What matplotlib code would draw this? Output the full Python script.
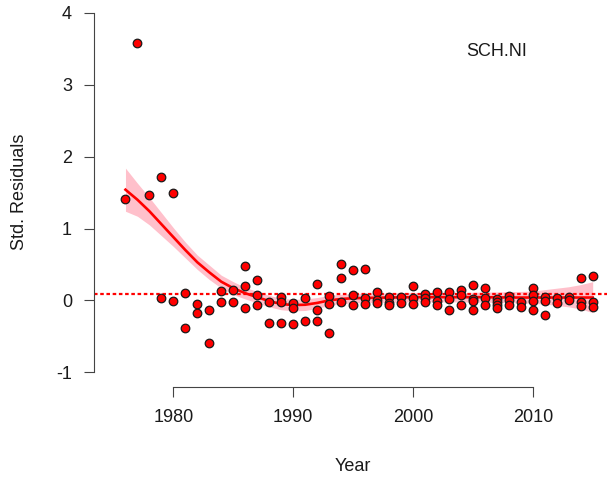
import matplotlib
matplotlib.use("Agg")
import matplotlib.pyplot as plt

plt.rcParams['font.family'] = ['Liberation Sans', 'DejaVu Sans']

# Standardised residuals per year
yr = [1976, 1977, 1978, 1979, 1979, 1980, 1980, 1981, 1981, 1982, 1982,
      1983, 1983, 1984, 1984, 1985, 1985, 1986, 1986, 1986, 1987, 1987, 1987,
      1988, 1988, 1989, 1989, 1989, 1990, 1990, 1990, 1991, 1991,
      1992, 1992, 1992, 1993, 1993, 1993, 1994, 1994, 1994,
      1995, 1995, 1995, 1996, 1996, 1996, 1997, 1997, 1997,
      1998, 1998, 1998, 1999, 1999, 2000, 2000, 2000, 2001, 2001, 2001,
      2002, 2002, 2002, 2003, 2003, 2003, 2004, 2004, 2004,
      2005, 2005, 2005, 2005, 2006, 2006, 2006, 2007, 2007, 2007, 2007,
      2008, 2008, 2008, 2009, 2009, 2010, 2010, 2010, 2010,
      2011, 2011, 2011, 2012, 2012, 2013, 2013, 2014, 2014, 2014,
      2015, 2015, 2015]
resid = [1.41, 3.58, 1.47, 1.71, 0.04, 1.49, -0.01, 0.10, -0.39, -0.05, -0.17,
         -0.13, -0.59, 0.13, -0.02, 0.15, -0.02, 0.48, 0.20, -0.10, 0.28, 0.07, -0.07,
         -0.02, -0.32, 0.05, -0.02, -0.32, -0.04, -0.11, -0.33, 0.04, -0.28,
         0.23, -0.14, -0.28, 0.06, -0.05, -0.46, 0.50, 0.31, -0.02,
         0.42, 0.08, -0.07, 0.43, 0.03, -0.05, 0.12, 0.01, -0.04,
         0.05, -0.03, -0.07, 0.05, -0.03, 0.20, 0.03, -0.05, 0.09, 0.03, -0.02,
         0.12, -0.01, -0.06, 0.12, 0.02, -0.13, 0.15, 0.07, -0.07,
         0.21, 0.02, -0.01, -0.13, 0.17, 0.03, -0.07, 0.02, -0.02, -0.06, -0.11,
         0.06, 0.00, -0.07, -0.02, -0.09, 0.17, 0.07, -0.01, -0.14,
         0.05, -0.01, -0.20, 0.04, -0.03, 0.05, 0.01, 0.31, -0.02, -0.08,
         0.34, -0.02, -0.09]

# Smoother and its confidence band
sm_yr = [1976, 1977, 1978, 1979, 1980, 1981, 1982, 1983, 1984, 1985, 1986,
         1987, 1988, 1989, 1990, 1991, 1992, 1993, 1994, 1995, 1996, 1998,
         2000, 2002, 2004, 2006, 2008, 2010, 2011, 2012, 2013, 2014, 2015]
sm_fit = [1.54, 1.40, 1.24, 1.06, 0.88, 0.70, 0.53, 0.39, 0.26, 0.17, 0.10,
          0.045, -0.01, -0.05, -0.065, -0.06, -0.035, 0.00, 0.02, 0.03, 0.035, 0.04,
          0.045, 0.045, 0.045, 0.045, 0.04, 0.04, 0.04, 0.04, 0.04, 0.04, 0.04]
sm_lo = [1.24, 1.17, 1.05, 0.90, 0.75, 0.59, 0.43, 0.29, 0.17, 0.08, 0.02,
         -0.035, -0.09, -0.13, -0.145, -0.14, -0.11, -0.07, -0.045, -0.035, -0.03, -0.025,
         -0.02, -0.02, -0.02, -0.025, -0.03, -0.04, -0.05, -0.07, -0.09, -0.12, -0.17]
sm_hi = [1.84, 1.63, 1.43, 1.22, 1.01, 0.81, 0.63, 0.49, 0.35, 0.26, 0.18,
         0.125, 0.07, 0.03, 0.015, 0.02, 0.04, 0.07, 0.085, 0.095, 0.10, 0.105,
         0.11, 0.11, 0.11, 0.115, 0.12, 0.13, 0.15, 0.17, 0.19, 0.22, 0.26]

ref_level = 0.09

fig = plt.figure(figsize=(6.07, 4.79), dpi=100)
ax = fig.add_axes([0.1554, 0.1927, 0.8526, 0.8106])

ax.fill_between(sm_yr, sm_lo, sm_hi, color='#FFC0CB', linewidth=0, zorder=1)
ax.axhline(ref_level, color='red', linestyle=(0, (1.6, 1.2)), linewidth=1.6, zorder=2)
ax.plot(sm_yr, sm_fit, color='red', linewidth=1.9, zorder=3)
ax.scatter(yr, resid, s=38, c='red', edgecolors='#1a1a1a', linewidths=0.9, zorder=4)

ax.set_xlim(1973.4, 2016.6)
ax.set_ylim(-1.2, 4.2)

for s in ['top', 'right']:
    ax.spines[s].set_visible(False)
ax.spines['left'].set_bounds(-1, 4)
ax.spines['bottom'].set_bounds(1980, 2010)
for s in ['left', 'bottom']:
    ax.spines[s].set_color('#444444')
    ax.spines[s].set_linewidth(0.8)

ax.set_xticks([1980, 1990, 2000, 2010])
ax.set_yticks([-1, 0, 1, 2, 3, 4])
ax.set_yticklabels(['-1', '0', '1', '2', '3', '4'])
ax.tick_params(direction='out', length=7.5, width=0.8, color='#444444',
               labelsize=13, labelcolor='#1a1a1a', pad=8.5)

ax.text(2007.0, 3.40, 'SCH.NI', ha='center', va='baseline', fontsize=13, color='#1a1a1a')

fig.text(353 / 607, 1 - 470.7 / 479, 'Year', ha='center', va='baseline',
         fontsize=13, color='#1a1a1a')
fig.text(24 / 607, 1 - 191.5 / 479, 'Std. Residuals', rotation=90, rotation_mode='anchor',
         ha='center', va='baseline', fontsize=13, color='#1a1a1a')

fig.savefig('out.png', dpi=100)
